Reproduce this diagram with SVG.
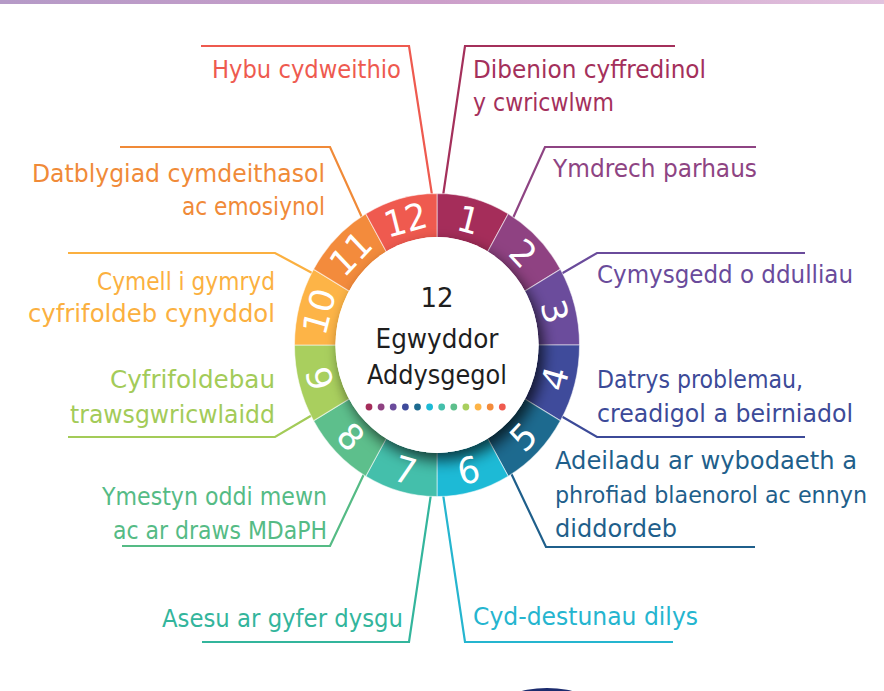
<svg xmlns="http://www.w3.org/2000/svg" width="884" height="691" viewBox="0 0 884 691">
<defs>
<linearGradient id="topbar" x1="0" y1="0" x2="1" y2="0">
<stop offset="0" stop-color="#b59ac7"/>
<stop offset="0.5" stop-color="#cc9fca"/>
<stop offset="1" stop-color="#e2c2de"/>
</linearGradient>
<filter id="shadow" x="-30%" y="-30%" width="160%" height="160%">
<feDropShadow dx="5" dy="7" stdDeviation="7" flood-color="#000" flood-opacity="0.7"/>
</filter>
</defs>
<style>
.lbl{font-family:"DejaVu Sans","Liberation Sans",sans-serif;font-size:24px}
.con{fill:none;stroke-width:2.2;stroke-linejoin:miter}
.num{font-family:"DejaVu Sans","Liberation Sans",sans-serif;font-size:34px;fill:#fff;text-anchor:middle;dominant-baseline:central}
.seg{stroke:#fff;stroke-width:1;stroke-opacity:0.55}
.ctr{font-family:"DejaVu Sans","Liberation Sans",sans-serif;font-size:26px;fill:#1e1e1e;text-anchor:middle}
</style>
<rect x="0" y="0" width="884" height="4" fill="url(#topbar)"/>
<ellipse cx="547" cy="712" rx="52" ry="24" fill="#1c2c6e"/>

<g id="connectors">
<path class="con" stroke="#ee5a4f" d="M201,46 H409 L432,195"/>
<path class="con" stroke="#a4305b" d="M675,46 H465 L443,196"/>
<path class="con" stroke="#8e4483" d="M756,147 H545 L513,218"/>
<path class="con" stroke="#6a4b9b" d="M805,253 H597 L561,274"/>
<path class="con" stroke="#3c4a98" d="M805,437 H597 L561,416"/>
<path class="con" stroke="#1f5f8b" d="M755,547 H546 L510,471"/>
<path class="con" stroke="#25b5cf" d="M673,642 H465 L443,494"/>
<path class="con" stroke="#33b59c" d="M202,642 H409 L431,494"/>
<path class="con" stroke="#55bb85" d="M122,546 H330 L364,474"/>
<path class="con" stroke="#a3cb58" d="M68,437 H275 L314,414"/>
<path class="con" stroke="#fbb040" d="M68,253 H275 L314,274"/>
<path class="con" stroke="#f08a38" d="M120,147 H330 L364,222"/>
</g>

<g id="wheel" transform="translate(437,345) scale(1,1.063)">
<path class="seg" fill="#a52d5a" d="M0,0 L0,-142.5 A142.5,142.5 0 0 1 71.25,-123.41 Z"/>
<path class="seg" fill="#8f4282" d="M0,0 L71.25,-123.41 A142.5,142.5 0 0 1 123.41,-71.25 Z"/>
<path class="seg" fill="#6b4c9c" d="M0,0 L123.41,-71.25 A142.5,142.5 0 0 1 142.5,0 Z"/>
<path class="seg" fill="#3f4b9b" d="M0,0 L142.5,0 A142.5,142.5 0 0 1 123.41,71.25 Z"/>
<path class="seg" fill="#1d6a8f" d="M0,0 L123.41,71.25 A142.5,142.5 0 0 1 71.25,123.41 Z"/>
<path class="seg" fill="#1dbad6" d="M0,0 L71.25,123.41 A142.5,142.5 0 0 1 0,142.5 Z"/>
<path class="seg" fill="#44bfab" d="M0,0 L0,142.5 A142.5,142.5 0 0 1 -71.25,123.41 Z"/>
<path class="seg" fill="#5dbf8c" d="M0,0 L-71.25,123.41 A142.5,142.5 0 0 1 -123.41,71.25 Z"/>
<path class="seg" fill="#a9cf5e" d="M0,0 L-123.41,71.25 A142.5,142.5 0 0 1 -142.5,0 Z"/>
<path class="seg" fill="#fdb447" d="M0,0 L-142.5,0 A142.5,142.5 0 0 1 -123.41,-71.25 Z"/>
<path class="seg" fill="#f38b3c" d="M0,0 L-123.41,-71.25 A142.5,142.5 0 0 1 -71.25,-123.41 Z"/>
<path class="seg" fill="#ef5a4f" d="M0,0 L-71.25,-123.41 A142.5,142.5 0 0 1 0,-142.5 Z"/>
<circle cx="0" cy="0" r="101.5" fill="#fff" filter="url(#shadow)"/>
<circle cx="0" cy="0" r="101.5" fill="#fff"/>
<text class="num" transform="translate(31.57,-117.84) rotate(15)">1</text>
<text class="num" transform="translate(86.27,-86.27) rotate(45)">2</text>
<text class="num" transform="translate(117.84,-31.57) rotate(75)">3</text>
<text class="num" transform="translate(117.84,31.57) rotate(-75)">4</text>
<text class="num" transform="translate(86.27,86.27) rotate(-45)">5</text>
<text class="num" transform="translate(31.57,117.84) rotate(-15)">6</text>
<text class="num" transform="translate(-31.57,117.84) rotate(15)">7</text>
<text class="num" transform="translate(-86.27,86.27) rotate(45)">8</text>
<text class="num" transform="translate(-117.84,31.57) rotate(75)">9</text>
<text class="num" transform="translate(-117.84,-31.57) rotate(-75)">10</text>
<text class="num" transform="translate(-86.27,-86.27) rotate(-45)">11</text>
<text class="num" transform="translate(-31.57,-117.84) rotate(-15)">12</text>
</g>

<g id="centre">
<text class="ctr" x="437" y="307" font-size="29">12</text>
<text class="ctr" x="437" y="348" textLength="123" lengthAdjust="spacingAndGlyphs">Egwyddor</text>
<text class="ctr" x="437" y="384" textLength="140" lengthAdjust="spacingAndGlyphs">Addysgegol</text>
<circle cx="369" cy="407" r="3.4" fill="#a52d5a"/>
<circle cx="381.1" cy="407" r="3.4" fill="#8f4282"/>
<circle cx="393.2" cy="407" r="3.4" fill="#6b4c9c"/>
<circle cx="405.4" cy="407" r="3.4" fill="#3f4b9b"/>
<circle cx="417.5" cy="407" r="3.4" fill="#1d6a8f"/>
<circle cx="429.6" cy="407" r="3.4" fill="#1dbad6"/>
<circle cx="441.7" cy="407" r="3.4" fill="#44bfab"/>
<circle cx="453.8" cy="407" r="3.4" fill="#5dbf8c"/>
<circle cx="465.9" cy="407" r="3.4" fill="#a9cf5e"/>
<circle cx="478.1" cy="407" r="3.4" fill="#fdb447"/>
<circle cx="490.2" cy="407" r="3.4" fill="#f38b3c"/>
<circle cx="502.3" cy="407" r="3.4" fill="#ef5a4f"/>
</g>

<g id="p12"><text class="lbl" fill="#ee5a4f" x="212" y="78" textLength="189" lengthAdjust="spacingAndGlyphs">Hybu cydweithio</text></g>
<g id="p1"><text class="lbl" fill="#a4305b" x="473" y="78" textLength="233" lengthAdjust="spacingAndGlyphs">Dibenion cyffredinol</text>
<text class="lbl" fill="#a4305b" x="473" y="111" textLength="141" lengthAdjust="spacingAndGlyphs">y cwricwlwm</text></g>
<g id="p2"><text class="lbl" fill="#8e4483" x="553" y="177" textLength="204" lengthAdjust="spacingAndGlyphs">Ymdrech parhaus</text></g>
<g id="p3"><text class="lbl" fill="#6a4b9b" x="597" y="283" textLength="256" lengthAdjust="spacingAndGlyphs">Cymysgedd o ddulliau</text></g>
<g id="p4"><text class="lbl" fill="#3c4a98" x="597" y="388" textLength="206" lengthAdjust="spacingAndGlyphs">Datrys problemau,</text>
<text class="lbl" fill="#3c4a98" x="597" y="422" textLength="256" lengthAdjust="spacingAndGlyphs">creadigol a beirniadol</text></g>
<g id="p5"><text class="lbl" fill="#1f5f8b" x="555" y="469" textLength="302" lengthAdjust="spacingAndGlyphs">Adeiladu ar wybodaeth a</text>
<text class="lbl" fill="#1f5f8b" x="555" y="503" style="font-size:23px" textLength="312" lengthAdjust="spacingAndGlyphs">phrofiad blaenorol ac ennyn</text>
<text class="lbl" fill="#1f5f8b" x="555" y="537" textLength="122" lengthAdjust="spacingAndGlyphs">diddordeb</text></g>
<g id="p6"><text class="lbl" fill="#25b5cf" x="473" y="625" textLength="225" lengthAdjust="spacingAndGlyphs">Cyd-destunau dilys</text></g>
<g id="p7"><text class="lbl" fill="#33b59c" x="162" y="627" textLength="241" lengthAdjust="spacingAndGlyphs">Asesu ar gyfer dysgu</text></g>
<g id="p8"><text class="lbl" fill="#55bb85" x="102" y="505" textLength="225" lengthAdjust="spacingAndGlyphs">Ymestyn oddi mewn</text>
<text class="lbl" fill="#55bb85" x="113" y="539" textLength="214" lengthAdjust="spacingAndGlyphs">ac ar draws MDaPH</text></g>
<g id="p9"><text class="lbl" fill="#a3cb58" x="110" y="388" textLength="165" lengthAdjust="spacingAndGlyphs">Cyfrifoldebau</text>
<text class="lbl" fill="#a3cb58" x="70" y="423" textLength="205" lengthAdjust="spacingAndGlyphs">trawsgwricwlaidd</text></g>
<g id="p10"><text class="lbl" fill="#fbb040" x="97" y="290" textLength="178" lengthAdjust="spacingAndGlyphs">Cymell i gymryd</text>
<text class="lbl" fill="#fbb040" x="28" y="322" textLength="247" lengthAdjust="spacingAndGlyphs">cyfrifoldeb cynyddol</text></g>
<g id="p11"><text class="lbl" fill="#f08a38" x="32" y="182" textLength="293" lengthAdjust="spacingAndGlyphs">Datblygiad cymdeithasol</text>
<text class="lbl" fill="#f08a38" x="182" y="215" textLength="143" lengthAdjust="spacingAndGlyphs">ac emosiynol</text></g>
</svg>
